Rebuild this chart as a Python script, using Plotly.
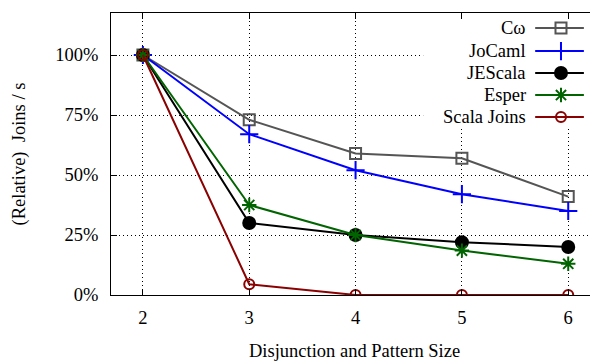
import plotly.graph_objects as go

sizes = [2, 3, 4, 5, 6]
series_names = ["Cω", "JoCaml", "JEScala", "Esper", "Scala Joins"]
cw = [100, 73, 59, 57, 41]
jocaml = [100, 67, 52, 42, 35]
jescala = [100, 30, 25, 22, 20]
esper = [100, 37.5, 25, 18.5, 13]
scala_joins = [100, 4.5, 0, 0, 0]
y_ticks = [0, 25, 50, 75, 100]

values = [cw, jocaml, jescala, esper, scala_joins]
colors = ["#555555", "#0000ff", "#000000", "#006400", "#8b0000"]
symbols = ["square-open", "cross-thin-open", "circle", "asterisk-open", "circle-open"]
msizes = [11, 13, 12, 12, 10]

FONT = "Liberation Serif, Times New Roman, serif"
FS = 18.5
fig = go.Figure()

for name, vals, c, s, ms in zip(series_names, values, colors, symbols, msizes):
    fig.add_trace(go.Scatter(
        x=sizes, y=vals, name=name, mode="lines+markers",
        line=dict(color=c, width=2),
        marker=dict(symbol=s, size=ms, color=c, line=dict(color=c, width=2)),
        showlegend=False,
    ))

# manual legend (gnuplot style: text then sample), in plot-area fractions
bx0, bx1, by0, by1 = 0.641, 0.995, 0.596, 0.998
fig.add_trace(go.Scatter(
    x=[bx0, bx1, bx1, bx0, bx0], y=[by0, by0, by1, by1, by0], xaxis="x2", yaxis="y2",
    mode="lines", fill="toself", fillcolor="white", line=dict(width=0, color="white"),
    showlegend=False, hoverinfo="skip",
))
row_y = [0.947, 0.865, 0.787, 0.709, 0.631]
lx0, lxm, lx1 = 0.871, 0.924, 0.971
annotations = []
for name, c, s, ms, yy in zip(series_names, colors, symbols, msizes, row_y):
    fig.add_trace(go.Scatter(
        x=[lx0, lx1], y=[yy, yy], xaxis="x2", yaxis="y2", mode="lines",
        line=dict(color=c, width=2), showlegend=False, hoverinfo="skip",
    ))
    fig.add_trace(go.Scatter(
        x=[lxm], y=[yy], xaxis="x2", yaxis="y2", mode="markers",
        marker=dict(symbol=s, size=ms, color=c, line=dict(color=c, width=2)),
        showlegend=False, hoverinfo="skip",
    ))
    annotations.append(dict(xref="x2", yref="y2", x=0.856, y=yy, text=name, showarrow=False,
                            xanchor="right", yanchor="middle", font=dict(size=FS, color="black", family=FONT)))

annotations.append(dict(xref="paper", yref="paper", x=0.5, y=-0.2, yanchor="middle",
                        text="Disjunction and Pattern Size", showarrow=False,
                        font=dict(size=FS, color="black", family=FONT)))
annotations.append(dict(xref="paper", yref="paper", x=-0.188, y=0.5, xanchor="center",
                        text="(Relative)  Joins / s", textangle=-90, showarrow=False,
                        font=dict(size=FS, color="black", family=FONT)))

fig.update_layout(
    width=590, height=356,
    margin=dict(l=103, r=0, t=5, b=69),
    paper_bgcolor="white", plot_bgcolor="white",
    font=dict(family=FONT, size=FS, color="black"),
    annotations=annotations,
    xaxis=dict(range=[1.7, 6.28], tickvals=sizes, ticktext=[str(v) for v in sizes],
               showgrid=True, gridcolor="black", griddash="1px,3px", gridwidth=1,
               showline=True, linecolor="black", linewidth=1, mirror="ticks",
               ticks="inside", ticklen=6, tickcolor="black", zeroline=False,
               ticklabelstandoff=6,
               tickfont=dict(size=FS, family=FONT)),
    yaxis=dict(range=[0, 117.5], tickvals=y_ticks, ticktext=[f"{v}%" for v in y_ticks],
               showgrid=True, gridcolor="black", griddash="1px,3px", gridwidth=1,
               showline=True, linecolor="black", linewidth=1, mirror="ticks",
               ticks="inside", ticklen=6, tickcolor="black", zeroline=False,
               ticklabelstandoff=8,
               tickfont=dict(size=FS, family=FONT)),
    xaxis2=dict(overlaying="x", range=[0, 1], visible=False, fixedrange=True),
    yaxis2=dict(overlaying="y", range=[0, 1], visible=False, fixedrange=True),
)

fig.write_html("out.html")
